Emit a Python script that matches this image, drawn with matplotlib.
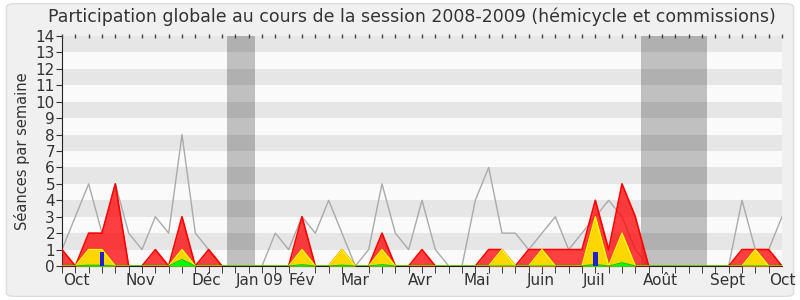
import numpy as np
import matplotlib
matplotlib.use('Agg')
import matplotlib.pyplot as plt
from matplotlib.patches import FancyBboxPatch

# one value per week, week 0 = end of sept 2008
total = [1,3,5,2,5,2,1,3,2,8,2,1,0,0,0,0,2,1,3,2,4,2,0,1,5,2,1,4,1,0,
         0,4,6,2,2,1,2,3,1,2,3,4,3,1,0,0,0,0,0,0,0,4,1,1,3]
presence = [1,0,2,2,5,0,0,1,0,3,0,1,0,0,0,0,0,0,3,0,0,1,0,0,2,0,0,1,0,0,
            0,0,1,1,0,1,1,1,1,1,4,1,5,3,0,0,0,0,0,0,0,1,1,1,0]
interventions = [0,0,1,1,0,0,0,0,0,1,0,0,0,0,0,0,0,0,1,0,0,1,0,0,1,0,0,0,0,0,
                 0,0,0,1,0,0,1,0,0,0,3,0,2,0,0,0,0,0,0,0,0,0,1,0,0]
rapports = [0,0,0.05,0.05,0,0,0,0,0,0.4,0,0,0,0,0,0,0,0,0.08,0,0,0.05,0,0,0.08,0,0,0,0,0,
            0,0,0,0,0,0,0,0,0,0,0.1,0,0.2,0,0,0,0,0,0,0,0,0,0,0,0]
questions = [0,0,0,0.85,0,0,0,0,0,0,0,0,0,0,0,0,0,0,0,0,0,0,0,0,0,0,0,0,0,0,
             0,0,0,0,0,0,0,0,0,0,0.85,0,0,0,0,0,0,0,0,0,0,0,0,0,0]
vacances = [(12.4, 14.5), (43.4, 48.4)]
mois = ['Oct', 'Nov', 'Déc', 'Jan 09', 'Fév', 'Mar', 'Avr', 'Mai', 'Juin', 'Juil', 'Août', 'Sept', 'Oct']
mois_pos = [1.1, 5.85, 10.85, 14.8, 18.0, 22.0, 26.9, 31.1, 35.9, 39.9, 44.9, 49.9, 54.0]

weeks = np.arange(len(total))

fig = plt.figure(figsize=(8, 3), dpi=100)
fig.patch.set_facecolor('white')
cadre = FancyBboxPatch((0.008, 0.012), 0.984, 0.976, boxstyle='round,pad=0,rounding_size=0.012',
                       transform=fig.transFigure, facecolor='#f0f0f0', edgecolor='#dddddd', lw=1, zorder=-10)
fig.patches.append(cadre)
ax = fig.add_axes([0.0775, 0.1133, 0.9, 0.7667])
ax.set_zorder(1)

# stripes
for k in range(14):
    ax.axhspan(k, k + 1, color='#e6e6e6' if k % 2 else '#fafafa', lw=0, zorder=0)
for a, b in vacances:
    ax.axvspan(a, b, color='black', alpha=0.23, lw=0, zorder=1)

ax.plot(weeks, total, color='#aaaaaa', lw=1, zorder=2)
ax.fill_between(weeks, presence, color='#ff0000', alpha=0.75, lw=0, zorder=3)
ax.plot(weeks, presence, color='#ff0000', lw=1.2, zorder=3)
ax.fill_between(weeks, interventions, color='#ffd700', lw=0, zorder=4)
ax.plot(weeks, interventions, color='#ffff00', lw=1, zorder=4)
ax.fill_between(weeks, rapports, color='#00ff00', lw=0, zorder=5)
ax.plot(weeks, rapports, color='#00cc00', lw=0.8, zorder=5)
ax.bar(weeks, questions, width=0.35, color='#2222cc', zorder=6)

ax.set_xlim(0, len(total) - 1)
ax.set_ylim(0, 14)
ax.set_yticks(range(15))
ax.set_xticks(mois_pos)
ax.set_xticklabels(mois)
ax.set_xticks(weeks, minor=True)
ax.tick_params(axis='x', which='major', length=0, labelsize=11, colors='#333333', pad=5)
ax.tick_params(axis='x', which='minor', length=5, direction='out', color='#222222')
ax.tick_params(axis='y', labelsize=11, colors='#333333', length=4, pad=1)
ax.set_ylabel('Séances par semaine', fontsize=10.5, color='#333333', labelpad=4)

for s in ['top', 'right']:
    ax.spines[s].set_visible(False)
ax.spines['left'].set_color('#222222')
ax.spines['bottom'].set_color('#222222')
# dotted ticks along the top
ax.plot(weeks, [14] * len(weeks), ls='none', marker='|', ms=3, color='#444444', clip_on=False, zorder=7)

fig.suptitle('Participation globale au cours de la session 2008-2009 (hémicycle et commissions)',
             fontsize=12.5, color='#333333', x=0.515, y=0.975)

plt.savefig('out.png', dpi=100)
